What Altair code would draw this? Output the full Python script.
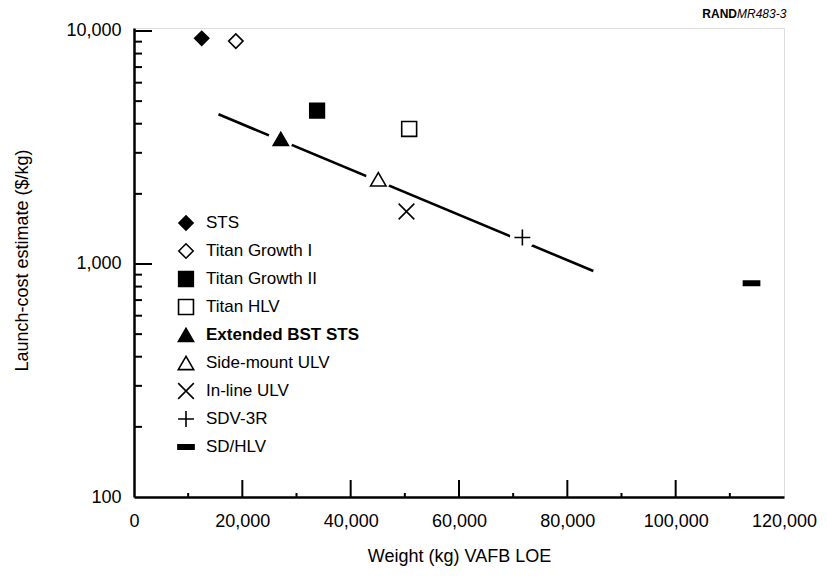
import altair as alt
import pandas as pd

# ---- data ----
names = ["STS", "Titan Growth I", "Titan Growth II", "Titan HLV", "Extended BST STS",
         "Side-mount ULV", "In-line ULV", "SDV-3R", "SD/HLV"]
weight_kg = [12500, 18800, 33800, 50800, 27100, 45100, 50300, 71700, 114000]
cost_per_kg = [9300, 9050, 4550, 3800, 3440, 2310, 1680, 1300, 826]

trend_weight = [15600, 84800]
trend_cost = [4390, 933]

x_labels = [0, 20000, 40000, 60000, 80000, 100000, 120000]
x_major_inner = [20000, 40000, 60000, 80000, 100000]
x_minor = [10000, 30000, 50000, 70000, 90000, 110000]
y_labels = [100, 1000, 10000]
y_major_inner = [1000, 10000]
y_minor = [200, 300, 400, 500, 600, 700, 800, 900,
           2000, 3000, 4000, 5000, 6000, 7000, 8000, 9000]

on_line = ["Extended BST STS", "Side-mount ULV", "SDV-3R"]
bold_label = "Extended BST STS"

# ---- styling ----
X_PATH = "M-1,-1L1,1M-1,1L1,-1"
PLUS_PATH = "M-1,0L1,0M0,-1L0,1"
DASH_PATH = "M-1,-0.27L1,-0.27L1,0.27L-1,0.27Z"
shape_range = ["diamond", "diamond", "square", "square", "triangle-up", "triangle-up",
               X_PATH, PLUS_PATH, DASH_PATH]
fill_range = ["black", "white", "black", "white", "black", "white",
              "transparent", "transparent", "black"]
size_range = [200, 260, 300, 240, 290, 290, 170, 225, 225]

FONT = "Liberation Sans, Arial, Helvetica, sans-serif"
W, H = 650, 469

pts = pd.DataFrame({"name": names, "weight": weight_kg, "cost": cost_per_kg})
trend = pd.DataFrame({"weight": trend_weight, "cost": trend_cost})
legend_df = pd.DataFrame({"name": names})


def xscale():
    return alt.Scale(domain=[0, 120000], nice=False, zero=False)


def yscale():
    return alt.Scale(type="log", domain=[100, 10300], nice=False)


shape_enc = alt.Shape("name:N", scale=alt.Scale(domain=names, range=shape_range), legend=None)
fill_enc = alt.Fill("name:N", scale=alt.Scale(domain=names, range=fill_range), legend=None)
size_enc = alt.Size("name:N", scale=alt.Scale(domain=names, range=size_range), legend=None)

main_x_axis = alt.Axis(values=x_labels, labelExpr="format(datum.value, ',')",
                       title="Weight (kg) VAFB LOE",
                       ticks=False, tickSize=0, labelPadding=15, labelFontSize=18,
                       titleFontSize=18, titleFontWeight="normal", titleY=59,
                       titleBaseline="middle", domainWidth=2.5, domainColor="black",
                       grid=False, labelFlush=False)
main_y_axis = alt.Axis(values=y_labels, labelExpr="format(datum.value, ',')",
                       title="Launch-cost estimate ($/kg)",
                       ticks=False, tickSize=0, labelPadding=13, labelFontSize=18,
                       titleFontSize=18, titleFontWeight="normal", titleX=-112,
                       titleY=232, titleBaseline="middle", domainWidth=2.5,
                       domainColor="black", grid=False, labelFlush=False)

line = alt.Chart(trend).mark_line(color="black", strokeWidth=2.6).encode(
    x=alt.X("weight:Q", scale=xscale(), axis=main_x_axis),
    y=alt.Y("cost:Q", scale=yscale(), axis=main_y_axis),
)

halo = alt.Chart(pts).transform_filter(
    alt.FieldOneOfPredicate(field="name", oneOf=on_line)
).mark_point(shape="circle", filled=True, color="white", opacity=1, size=620).encode(
    x=alt.X("weight:Q", scale=xscale()),
    y=alt.Y("cost:Q", scale=yscale()),
)

points = alt.Chart(pts).mark_point(stroke="black", strokeWidth=1.6, opacity=1).encode(
    x=alt.X("weight:Q", scale=xscale()),
    y=alt.Y("cost:Q", scale=yscale()),
    shape=shape_enc, fill=fill_enc, size=size_enc,
)

plot = alt.layer(line, halo, points)


# inward tick marks along the bottom and left edges, in their own group
def xticks(values, length):
    return alt.Chart(pd.DataFrame({"v": values})).mark_tick(
        color="black", thickness=2, size=length, opacity=1
    ).encode(x=alt.X("v:Q", scale=xscale(), axis=None), y=alt.value(H - length / 2))


def yticks(values, length):
    return alt.Chart(pd.DataFrame({"v": values})).mark_tick(
        color="black", thickness=2, size=length, opacity=1, orient="horizontal"
    ).encode(y=alt.Y("v:Q", scale=yscale(), axis=None), x=alt.value(length / 2))


ticks = alt.layer(xticks(x_major_inner, 17), xticks(x_minor, 4),
                  yticks(y_major_inner, 18), yticks(y_minor, 8))

leg_y = alt.Y("name:N", scale=alt.Scale(type="point", domain=names, range=[195, 419], padding=0),
              axis=None)
leg_pts = alt.Chart(legend_df).mark_point(stroke="black", strokeWidth=1.6, opacity=1).encode(
    x=alt.value(52), y=leg_y, shape=shape_enc, fill=fill_enc, size=size_enc,
)
leg_txt = alt.Chart(legend_df).transform_filter(alt.datum.name != bold_label).mark_text(
    align="left", baseline="middle", fontSize=17, font=FONT, color="black"
).encode(x=alt.value(72), y=leg_y, text="name:N")
leg_bold = alt.Chart(legend_df).transform_filter(alt.datum.name == bold_label).mark_text(
    align="left", baseline="middle", fontSize=17, font=FONT, color="black", fontWeight="bold"
).encode(x=alt.value(72), y=leg_y, text="name:N")

rand = alt.Chart(pd.DataFrame({"t": ["RAND"]})).mark_text(
    align="right", baseline="middle", fontSize=12, font=FONT, fontWeight="bold", color="black"
).encode(x=alt.value(603), y=alt.value(-14), text="t:N")
mr = alt.Chart(pd.DataFrame({"t": ["MR483-3"]})).mark_text(
    align="left", baseline="middle", fontSize=12, font=FONT, fontStyle="italic", color="black"
).encode(x=alt.value(603), y=alt.value(-14), text="t:N")

legend = alt.layer(leg_pts, leg_txt, leg_bold, rand, mr)

chart = alt.layer(plot, ticks, legend).resolve_scale(x="independent", y="independent").properties(
    width=W, height=H,
    autosize=alt.AutoSizeParams(type="none"),
    padding={"left": 126, "top": 20, "right": 35, "bottom": 71},
).configure_view(stroke="black", strokeWidth=1.5).configure_axis(
    labelFont=FONT, titleFont=FONT, labelColor="black", titleColor="black",
).configure(background="white")

chart.save("out.html", embed_options={"renderer": "svg", "actions": False})
